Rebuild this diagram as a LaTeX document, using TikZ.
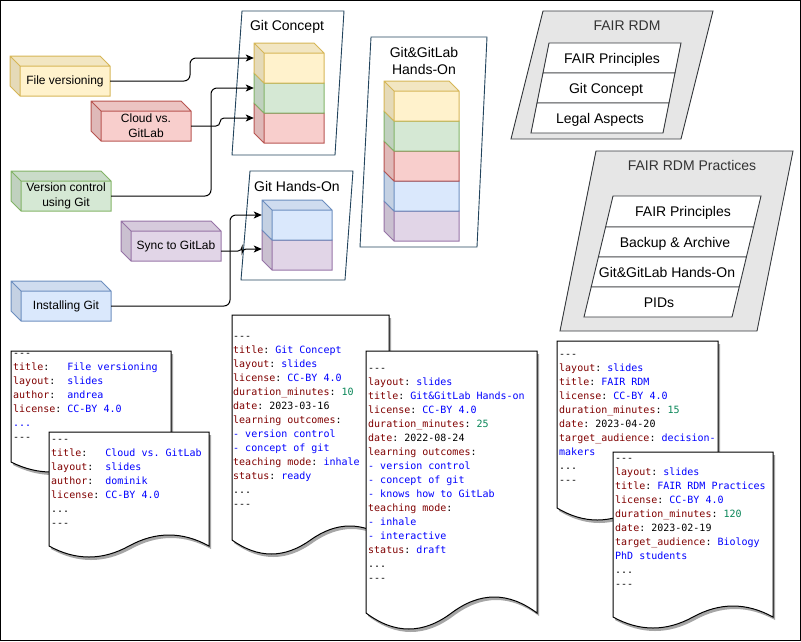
\documentclass[tikz,border=0pt]{standalone}
\usepackage{fontspec}
\setmainfont{Liberation Sans}
\setmonofont{DejaVu Sans Mono}
\usetikzlibrary{arrows.meta,calc}
\definecolor{yF}{HTML}{FFF2CC}\definecolor{yS}{HTML}{D6B656}
\definecolor{gF}{HTML}{D5E8D4}\definecolor{gS}{HTML}{82B366}
\definecolor{rF}{HTML}{F8CECC}\definecolor{rS}{HTML}{B85450}
\definecolor{bF}{HTML}{DAE8FC}\definecolor{bS}{HTML}{6C8EBF}
\definecolor{pF}{HTML}{E1D5E7}\definecolor{pS}{HTML}{9673A6}
\definecolor{parS}{HTML}{23445D}
\definecolor{fS}{HTML}{36393D}\definecolor{fF}{HTML}{E6E6E6}
\definecolor{ttlgray}{HTML}{333333}
\definecolor{keyc}{HTML}{800000}
\definecolor{valc}{HTML}{0000FF}
\definecolor{numc}{HTML}{098658}
\newcommand{\dkey}[1]{{\color{keyc}#1}}
\newcommand{\dval}[1]{{\color{valc}#1}}
\newcommand{\dnum}[1]{{\color{numc}#1}}
\newcommand{\dashes}{-\kern0pt-\kern0pt-}
\newcommand{\fstrut}{\rule{0pt}{10pt}}
\tikzset{
  cubeline/.style={line width=1pt, line join=miter},
  cubelbl/.style={inner sep=0pt, align=center, font=\fontsize{12}{15}\selectfont},
  conn/.style={draw=black, line width=1pt, rounded corners=6pt, -{Stealth[length=8pt,width=7pt,inset=2pt]}},
  gpar/.style={draw=parS, fill=white, line width=0.9pt},
  fpar/.style={draw=fS, fill=fF, line width=0.9pt},
  ipar/.style={draw=fS, fill=white, line width=0.9pt},
  ttl/.style={inner sep=0pt, font=\fontsize{14}{17}\selectfont, text height=10pt, text depth=0pt},
  docline/.style={draw=black, fill=white, line width=1pt},
  docshadow/.style={fill=black!35},
  doctext/.style={inner sep=0pt, anchor=north west, align=left, font=\ttfamily\fontsize{10}{14}\selectfont},
}
% name, x, y, w, h, fill, stroke, label
\newcommand{\mycube}[8]{%
  \pgfmathsetmacro{\cw}{#4-10}\pgfmathsetmacro{\ch}{#5-10}%
  \fill[#6!90!black] (#2,#3) -- (#2+10,#3+10) -- (#2+10,#3+#5) -- (#2,#3+#5-10) -- cycle;
  \fill[#6!95!black] (#2,#3) -- (#2+#4-10,#3) -- (#2+#4,#3+10) -- (#2+10,#3+10) -- cycle;
  \fill[#6] (#2+10,#3+10) rectangle (#2+#4,#3+#5);
  \draw[#7,cubeline] (#2,#3) -- (#2+#4-10,#3) -- (#2+#4,#3+10) -- (#2+#4,#3+#5) -- (#2+10,#3+#5) -- (#2,#3+#5-10) -- cycle
     (#2,#3) -- (#2+10,#3+10) -- (#2+#4,#3+10) (#2+10,#3+10) -- (#2+10,#3+#5);
  \node[cubelbl, minimum width=\cw pt, minimum height=\ch pt] (#1) at ({#2+10+(#4-10)/2},{#3+10+(#5-10)/2}) {#8};
}
% x, y, w, b, A
\newcommand{\mydoc}[5]{%
  \fill[docshadow, shift={(2,3)}] (#1,#2) -- (#1+#3,#2) -- (#1+#3,#2+#4)
    .. controls ({#1+#3*5/6},{#2+#4-4*#5/3}) and ({#1+#3*2/3},{#2+#4-4*#5/3}) .. ({#1+#3/2},{#2+#4})
    .. controls ({#1+#3/3},{#2+#4+4*#5/3}) and ({#1+#3/6},{#2+#4+4*#5/3}) .. (#1,#2+#4) -- cycle;
  \draw[docline] (#1,#2) -- (#1+#3,#2) -- (#1+#3,#2+#4)
    .. controls ({#1+#3*5/6},{#2+#4-4*#5/3}) and ({#1+#3*2/3},{#2+#4-4*#5/3}) .. ({#1+#3/2},{#2+#4})
    .. controls ({#1+#3/3},{#2+#4+4*#5/3}) and ({#1+#3/6},{#2+#4+4*#5/3}) .. (#1,#2+#4) -- cycle;
}
\begin{document}
\begin{tikzpicture}[x=1pt,y=-1pt]
\useasboundingbox (0,0) rectangle (801,641);
\draw[line width=1pt] (0.5,0.5) rectangle (800.5,640.5);

% containers
\draw[gpar] (242,11) -- (344,11) -- (335,155) -- (232,155) -- cycle;
\node[ttl] (tGC) at (287,25) {Git Concept};
\draw[gpar] (250,171) -- (353,171) -- (345,280) -- (241,280) -- cycle;
\node[ttl] (tGH) at (297,186) {Git Hands-On};
\draw[gpar] (371,37) -- (487,37) -- (477,247) -- (360,247) -- cycle;
\node[inner sep=0pt, font=\fontsize{14}{17}\selectfont, align=center] (tGGH) at (424,61) {Git\&GitLab\\Hands-On};

\draw[fpar] (543,11) -- (713,11) -- (681,139) -- (511,139) -- cycle;
\node[ttl, text=ttlgray] (tFR) at (627,25) {FAIR RDM};
\draw[ipar] (549,43) -- (681,43) -- (675,73) -- (543,73) -- cycle;
\draw[ipar] (543,73) -- (675,73) -- (669,103) -- (537,103) -- cycle;
\draw[ipar] (537,103) -- (669,103) -- (663,133) -- (531,133) -- cycle;
\node[ttl] (fr1) at (612,58) {FAIR Principles};
\node[ttl] (fr2) at (606,88) {Git Concept};
\node[ttl] (fr3) at (600,118) {Legal Aspects};

\draw[fpar] (596,151) -- (793,151) -- (757,331) -- (560,331) -- cycle;
\node[ttl, text=ttlgray] (tFRP) at (692,165) {FAIR RDM Practices};
\draw[ipar] (613,196) -- (761,196) -- (753.6,227) -- (605.6,227) -- cycle;
\draw[ipar] (605.6,227) -- (753.6,227) -- (746.4,257) -- (598.4,257) -- cycle;
\draw[ipar] (598.4,257) -- (746.4,257) -- (739.2,287) -- (591.2,287) -- cycle;
\draw[ipar] (591.2,287) -- (739.2,287) -- (732,317) -- (584,317) -- cycle;
\node[ttl] (fp1) at (683,211) {FAIR Principles};
\node[ttl] (fp2) at (675,242) {Backup \& Archive};
\node[ttl] (fp3) at (667,272) {Git\&GitLab Hands-On};
\node[ttl] (fp4) at (659,302) {PIDs};

% stacks
\mycube{cr}{254}{103}{70}{40}{rF}{rS}{}
\mycube{cg}{254}{73}{70}{40}{gF}{gS}{}
\mycube{cy}{254}{43}{70}{40}{yF}{yS}{}
\mycube{hp}{262}{230}{70}{40}{pF}{pS}{}
\mycube{hb}{262}{200}{70}{40}{bF}{bS}{}
\mycube{sp}{384}{201}{75}{40}{pF}{pS}{}
\mycube{sb}{384}{171}{75}{40}{bF}{bS}{}
\mycube{sr}{384}{141}{75}{40}{rF}{rS}{}
\mycube{sg}{384}{111}{75}{40}{gF}{gS}{}
\mycube{sy}{384}{81}{75}{40}{yF}{yS}{}

% topic cubes
\mycube{filev}{10}{56}{100}{40}{yF}{yS}{File versioning}
\mycube{cloud}{91}{101}{100}{40}{rF}{rS}{Cloud vs.\\GitLab}
\mycube{vc}{11}{171}{100}{40}{gF}{gS}{Version control\\using Git}
\mycube{sync}{121}{221}{100}{40}{pF}{pS}{Sync to GitLab}
\mycube{inst}{11}{281}{100}{40}{bF}{bS}{Installing Git}

% connector targets and bends
\coordinate (tY) at ($(cy.west)+(-10,-10)$);
\coordinate (tG) at ($(cg.west)+(-10,-10)$);
\coordinate (tR) at ($(cr.west)+(-10,-10)$);
\coordinate (tB) at ($(hb.west)+(-10,-10)$);
\coordinate (tP) at ($(hp.west)+(-10,-6)$);
\coordinate (sS) at ($(sync.east)+(0,5)$);
\coordinate (bx1) at (190,0);
\coordinate (bx2) at (220,0);
\coordinate (bx3) at (211,0);
\coordinate (bx4) at (242,0);
\coordinate (bx5) at (230,0);

\draw[conn] (filev.east) -- (filev.east -| bx1) -- (bx1 |- tY) -- (tY);
\draw[conn, rounded corners=4pt] (cloud.east) -- (cloud.east -| bx2) -- (bx2 |- tR) -- (tR);
\draw[conn] (vc.east) -- (vc.east -| bx3) -- (bx3 |- tG) -- (tG);
\draw[conn, rounded corners=4pt] (sS) -- (sS -| bx4) -- (bx4 |- tP) -- (tP);
\draw[conn] (inst.east) -- (inst.east -| bx5) -- (bx5 |- tB) -- (tB);

% documents
\mydoc{11}{351}{160}{111}{10}
\node[doctext] (d1) at (13,346) {\fstrut\dashes\\
\dkey{title}:~~~\dval{File versioning}\\
\dkey{layout}:~~\dval{slides}\\
\dkey{author}:~~\dval{andrea}\\
\dkey{license}:~\dval{CC-BY 4.0}\\
\dval{...}\\
\dashes};
\mydoc{49}{432}{160}{114}{11}
\node[doctext] (d2) at (51,432) {\fstrut\dashes\\
\dkey{title}:~~~\dval{Cloud vs. GitLab}\\
\dkey{layout}:~~\dval{slides}\\
\dkey{author}:~~\dval{dominik}\\
\dkey{license}:~\dval{CC-BY 4.0}\\
...\\
\dashes};

\mydoc{232}{315}{157}{225}{14}
\node[doctext] (d3) at (233,329) {\fstrut\dashes\\
\dkey{title}: \dval{Git Concept}\\
\dkey{layout}: \dval{slides}\\
\dkey{license}: \dval{CC-BY 4.0}\\
\dkey{duration\_minutes}: \dnum{10}\\
\dkey{date}: 2023-03-16\\
\dkey{learning outcomes}:\\
\dval{- version control}\\
\dval{- concept of git}\\
\dkey{teaching mode}: \dval{inhale}\\
\dkey{status}: \dval{ready}\\
...\\
\dashes};
\mydoc{366}{351}{171}{262}{16}
\node[doctext] (d4) at (368,361) {\fstrut\dashes\\
\dkey{layout}: \dval{slides}\\
\dkey{title}: \dval{Git\&GitLab Hands-on}\\
\dkey{license}: \dval{CC-BY 4.0}\\
\dkey{duration\_minutes}: \dnum{25}\\
\dkey{date}: 2022-08-24\\
\dkey{learning outcomes}:\\
\dval{- version control}\\
\dval{- concept of git}\\
\dval{- knows how to GitLab}\\
\dkey{teaching mode}:\\
\dval{- inhale}\\
\dval{- interactive}\\
\dkey{status}: \dval{draft}\\
...\\
\dashes};

\mydoc{557}{341}{161}{167}{12}
\node[doctext] (d5) at (559,347) {\fstrut\dashes\\
\dkey{layout}: \dval{slides}\\
\dkey{title}: \dval{FAIR RDM}\\
\dkey{license}: \dval{CC-BY 4.0}\\
\dkey{duration\_minutes}: \dnum{15}\\
\dkey{date}: 2023-04-20\\
\dkey{target\_audience}: \dval{decision-}\\
\dval{makers}\\
...\\
\dashes};
\mydoc{613}{452}{160}{165}{11}
\node[doctext] (d6) at (615,451) {\fstrut\dashes\\
\dkey{layout}: \dval{slides}\\
\dkey{title}: \dval{FAIR RDM Practices}\\
\dkey{license}: \dval{CC-BY 4.0}\\
\dkey{duration\_minutes}: \dnum{120}\\
\dkey{date}: 2023-02-19\\
\dkey{target\_audience}: \dval{Biology}\\
\dval{PhD students}\\
...\\
\dashes};
\end{tikzpicture}
\end{document}
